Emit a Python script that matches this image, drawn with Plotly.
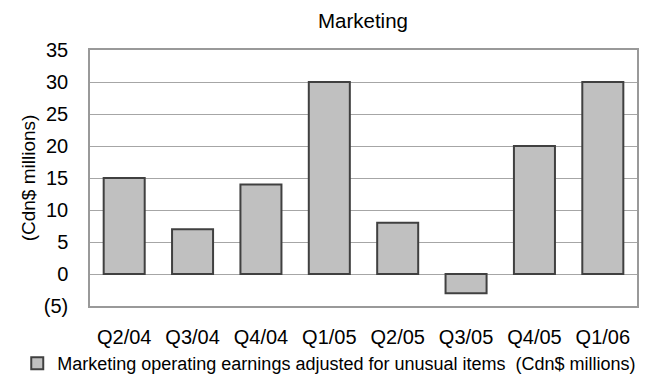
import plotly.graph_objects as go

categories = ["Q2/04", "Q3/04", "Q4/04", "Q1/05", "Q2/05", "Q3/05", "Q4/05", "Q1/06"]
values = [15, 7, 14, 30, 8, -3, 20, 30]
tick_vals = [-5, 0, 5, 10, 15, 20, 25, 30, 35]
tick_text = ["(5)", "0", "5", "10", "15", "20", "25", "30", "35"]
series_name = "Marketing operating earnings adjusted for unusual items  (Cdn$ millions)"

FONT = "Liberation Sans, Arial, sans-serif"

fig = go.Figure()
fig.add_trace(go.Bar(
    x=categories, y=values, name=series_name,
    marker=dict(color="#C0C0C0", line=dict(color="#404040", width=2)),
    width=0.6, showlegend=True,
))

fig.update_layout(
    width=647, height=379,
    margin=dict(l=90, r=10, t=50, b=73, autoexpand=False),
    plot_bgcolor="white", paper_bgcolor="white",
    font=dict(family=FONT, size=20, color="black"),
    title=dict(text="Marketing", x=0.561, xanchor="center", y=0.945, yanchor="middle",
               font=dict(family=FONT, size=20.5, color="black")),
    showlegend=True,
    legend=dict(orientation="h", x=-0.133, xanchor="left", y=-0.225, yanchor="middle",
                font=dict(family=FONT, size=18, color="black"),
                itemwidth=30, bgcolor="rgba(0,0,0,0)"),
    bargap=0.4,
)
fig.update_xaxes(showline=True, linecolor="#999999", linewidth=1.5, mirror=True,
                 showgrid=False, ticks="", tickfont=dict(size=20), ticklabelstandoff=12,
                 tickangle=0, automargin=False)
fig.update_yaxes(range=[-5, 35], tickvals=tick_vals, ticktext=tick_text,
                 showline=True, linecolor="#999999", linewidth=1.5, mirror=True,
                 showgrid=True, gridcolor="#A6A6A6", gridwidth=1,
                 zeroline=False, ticks="", tickfont=dict(size=20), ticklabelstandoff=16,
                 automargin=False,
                 title=dict(text="(Cdn$ millions)", font=dict(size=19), standoff=3))

fig.write_html("out.html")
